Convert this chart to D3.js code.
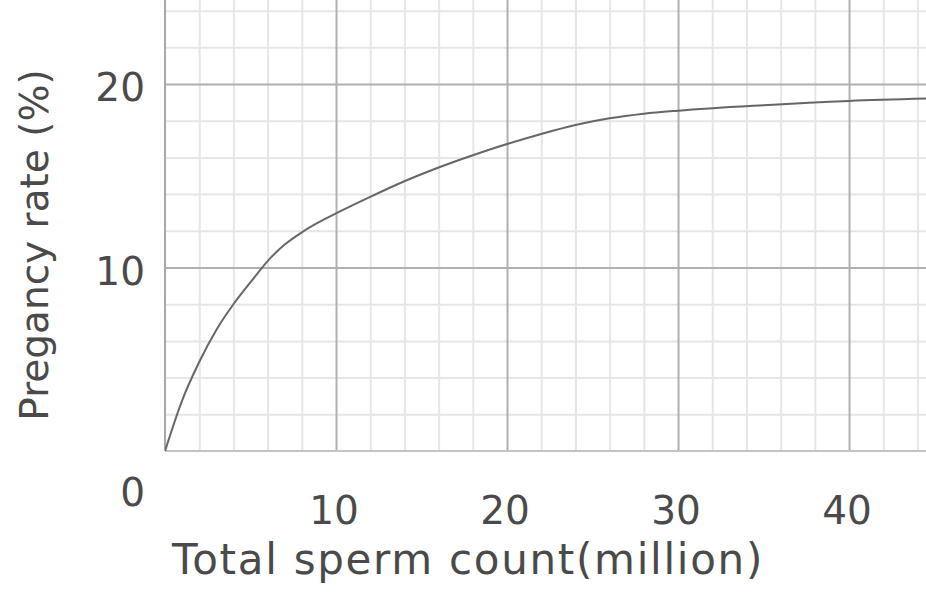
<!DOCTYPE html>
<html><head><meta charset="utf-8">
<script src="https://cdn.jsdelivr.net/npm/d3@7"></script>
<style>body{margin:0;background:#fff;} text{font-family:"DejaVu Sans",sans-serif;fill:#4a4a4a;}</style>
</head><body><svg id="c" width="926" height="600"></svg>
<script>
const spermCount = [0, 1, 2, 3, 4, 5, 6.2, 7, 8, 9, 10, 12, 14, 16, 18, 20, 22, 24, 26, 28, 30, 35, 40, 45];
const pregnancyRate = [0, 2.75, 4.85, 6.6, 8.0, 9.2, 10.55, 11.25, 11.92, 12.47, 12.95, 13.85, 14.7, 15.45, 16.12, 16.73, 17.28, 17.77, 18.13, 18.38, 18.55, 18.85, 19.08, 19.22];
const xTickLabels = ["10", "20", "30", "40"];
const yTickLabels = ["10", "20"];
const xMajor = [10, 20, 30, 40];
const yMajor = [10, 20];
const xMinor = [2,4,6,8,12,14,16,18,22,24,26,28,32,34,36,38,42,44];
const yMinor = [2,4,6,8,12,14,16,18,22,24];

const svg = d3.select("#c");
const L = 165, B = 451, R = 926, T = 0;
const x = d3.scaleLinear().domain([0, 44.5]).range([L, R]);
const y = d3.scaleLinear().domain([0, 24.58]).range([B, T]);

svg.append("defs").append("clipPath").attr("id","clip").append("rect")
  .attr("x", L).attr("y", T).attr("width", R - L).attr("height", B - T);

function grid(axis, vals, color, tx, ty) {
  const g = svg.append("g").attr("transform", `translate(${tx},${ty})`).call(axis.tickValues(vals).tickFormat(""));
  g.select(".domain").remove();
  g.selectAll("line").attr("stroke", color).attr("stroke-width", 2);
  return g;
}
grid(d3.axisBottom(x).tickSize(-(B - T)).tickSizeOuter(0), xMinor, "#e6e6e6", 0, B);
grid(d3.axisLeft(y).tickSize(-(R - L)).tickSizeOuter(0), yMinor, "#e6e6e6", L, 0);
grid(d3.axisBottom(x).tickSize(-(B - T)).tickSizeOuter(0), xMajor, "#b0b0b0", 0, B);
grid(d3.axisLeft(y).tickSize(-(R - L)).tickSizeOuter(0), yMajor, "#b0b0b0", L, 0);

// axis lines
svg.append("line").attr("x1", x(0)).attr("x2", x(0)).attr("y1", T).attr("y2", B).attr("stroke", "#a8a8a8").attr("stroke-width", 2);
svg.append("line").attr("x1", x(0)).attr("x2", R).attr("y1", B).attr("y2", B).attr("stroke", "#c4c4c4").attr("stroke-width", 2);

// curve
const pts = spermCount.map((v, i) => [v, pregnancyRate[i]]);
svg.append("path").datum(pts).attr("clip-path", "url(#clip)")
  .attr("fill", "none").attr("stroke", "#666").attr("stroke-width", 2)
  .attr("d", d3.line().x(d => x(d[0])).y(d => y(d[1])).curve(d3.curveMonotoneX));

// tick labels
svg.selectAll(".xl").data(xMajor).join("text").attr("class","xl")
  .attr("x", d => x(d) - 2).attr("y", B + 73).attr("text-anchor", "middle")
  .style("font-size", "39px").text((d, i) => xTickLabels[i]);
svg.selectAll(".yl").data(yMajor).join("text").attr("class","yl")
  .attr("x", 145).attr("y", d => y(d) + 17).attr("text-anchor", "end")
  .style("font-size", "39px").text((d, i) => yTickLabels[i]);
svg.append("text").attr("x", 145).attr("y", y(0) + 55).attr("text-anchor", "end")
  .style("font-size", "39px").text("0");

// axis titles
svg.append("text").attr("x", 172).attr("y", 574).style("font-size", "42px").style("letter-spacing", "1.7px").text("Total sperm count(million)");
svg.append("text").attr("transform", "translate(48,245) rotate(-90)").attr("text-anchor", "middle")
  .style("font-size", "39px").text("Pregancy rate (%)");
</script></body></html>
